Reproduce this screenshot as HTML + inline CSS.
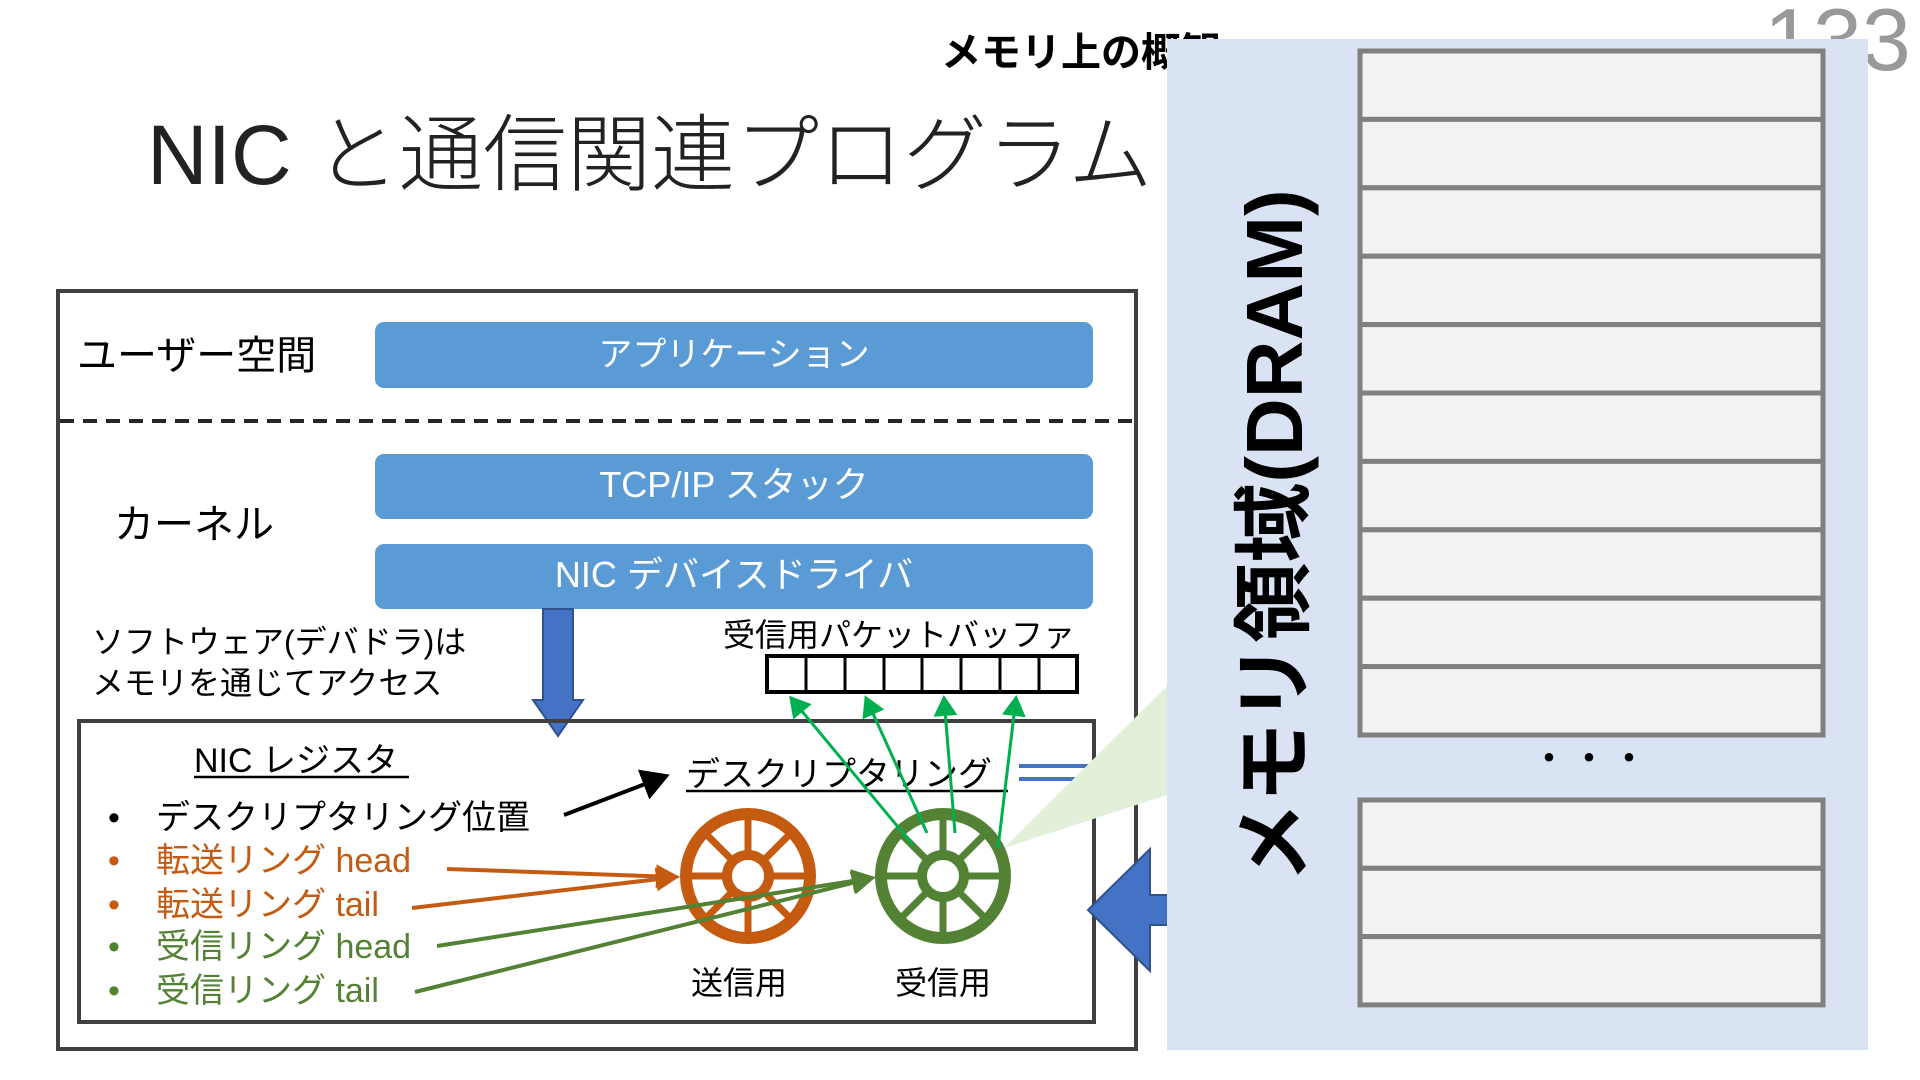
<!DOCTYPE html>
<html><head><meta charset="utf-8"><style>
html,body{margin:0;padding:0;background:#fff;}
svg{display:block;}
text{font-family:"Liberation Sans","Noto Sans CJK JP",sans-serif;}
</style></head><body>
<svg width="1920" height="1080" viewBox="0 0 1920 1080" xmlns="http://www.w3.org/2000/svg">
<defs>
<marker id="ab" markerWidth="8" markerHeight="8" refX="6" refY="4" orient="auto" markerUnits="strokeWidth"><path d="M0,0 L7,4 L0,8 Z" fill="#000"/></marker>
<marker id="ao" markerWidth="6" markerHeight="6" refX="5" refY="3" orient="auto" markerUnits="strokeWidth"><path d="M0,0 L6,3 L0,6 Z" fill="#c55a11"/></marker>
<marker id="ag" markerWidth="6" markerHeight="6" refX="5" refY="3" orient="auto" markerUnits="strokeWidth"><path d="M0,0 L6,3 L0,6 Z" fill="#548235"/></marker>
<marker id="abg" markerWidth="8" markerHeight="8" refX="6" refY="4" orient="auto" markerUnits="strokeWidth"><path d="M0,0 L7,4 L0,8 Z" fill="#00b050"/></marker>
</defs>
<text x="1764" y="70" font-size="88" fill="#999" font-weight="300">133</text>
<text x="147" y="184" font-size="84" fill="#222" font-weight="300">NIC と通信関連プログラム</text>
<text x="941" y="66" font-size="40" font-weight="bold" fill="#000">メモリ上の概観</text>

<!-- outer box -->
<rect x="58" y="291" width="1078" height="758" fill="none" stroke="#404040" stroke-width="4"/>
<line x1="60" y1="421" x2="1134" y2="421" stroke="#262626" stroke-width="4" stroke-dasharray="14,9"/>
<text x="77" y="369" font-size="40" fill="#000">ユーザー空間</text>
<text x="114" y="538" font-size="40" fill="#000">カーネル</text>
<rect x="375" y="322" width="718" height="66" rx="9" fill="#5b9bd5"/>
<text x="734" y="366" font-size="34" fill="#fff" text-anchor="middle">アプリケーション</text>
<rect x="375" y="454" width="718" height="65" rx="9" fill="#5b9bd5"/>
<text x="734" y="497" font-size="36" fill="#fff" text-anchor="middle">TCP/IP スタック</text>
<rect x="375" y="544" width="718" height="65" rx="9" fill="#5b9bd5"/>
<text x="734" y="587" font-size="36" fill="#fff" text-anchor="middle">NIC デバイスドライバ</text>

<!-- down arrow -->
<path d="M543,609 L573,609 L573,700 L583,700 L558,736 L533,700 L543,700 Z" fill="#4472c4" stroke="#2f528f" stroke-width="2"/>
<text x="92" y="653" font-size="32" fill="#000">ソフトウェア(デバドラ)は</text>
<text x="92" y="694" font-size="32" fill="#000">メモリを通じてアクセス</text>
<text x="723" y="646" font-size="32" fill="#000">受信用パケットバッファ</text>
<rect x="767" y="656" width="310" height="36" fill="#fff" stroke="#000" stroke-width="4"/>
<g stroke="#000" stroke-width="3">
<line x1="806" y1="656" x2="806" y2="692"/><line x1="845" y1="656" x2="845" y2="692"/><line x1="884" y1="656" x2="884" y2="692"/><line x1="922" y1="656" x2="922" y2="692"/><line x1="961" y1="656" x2="961" y2="692"/><line x1="1000" y1="656" x2="1000" y2="692"/><line x1="1039" y1="656" x2="1039" y2="692"/>
</g>

<!-- NIC box -->
<rect x="79" y="721" width="1015" height="301" fill="none" stroke="#404040" stroke-width="4"/>
<text x="194" y="772" font-size="34" fill="#000">NIC レジスタ</text>
<line x1="194" y1="777" x2="409" y2="777" stroke="#000" stroke-width="2.5"/>
<g font-size="34">
<text x="108" y="829" fill="#000">•</text><text x="156" y="829" fill="#000">デスクリプタリング位置</text>
<text x="108" y="872" fill="#c55a11">•</text><text x="156" y="872" fill="#c55a11">転送リング head</text>
<text x="108" y="916" fill="#c55a11">•</text><text x="156" y="916" fill="#c55a11">転送リング tail</text>
<text x="108" y="958" fill="#548235">•</text><text x="156" y="958" fill="#548235">受信リング head</text>
<text x="108" y="1002" fill="#548235">•</text><text x="156" y="1002" fill="#548235">受信リング tail</text>
</g>
<line x1="564" y1="815" x2="666" y2="776" stroke="#000" stroke-width="4" marker-end="url(#ab)"/>
<text x="686" y="786" font-size="34" fill="#000">デスクリプタリング</text>
<line x1="686" y1="791" x2="1008" y2="791" stroke="#000" stroke-width="2.5"/>
<line x1="1019" y1="766" x2="1155" y2="766" stroke="#4472c4" stroke-width="4"/>
<line x1="1019" y1="779" x2="1155" y2="779" stroke="#4472c4" stroke-width="4"/>

<!-- fan -->
<polygon points="1004,848 1167,686 1167,795" fill="#e2f0d9"/>

<!-- wheels -->
<g stroke="#c55a11" fill="none">
<circle cx="748" cy="876" r="62" stroke-width="12"/>
<circle cx="748" cy="876" r="21" stroke-width="10"/>
<g stroke-width="7">
<line x1="748" y1="814" x2="748" y2="855"/><line x1="748" y1="897" x2="748" y2="938"/>
<line x1="686" y1="876" x2="727" y2="876"/><line x1="769" y1="876" x2="810" y2="876"/>
<line x1="704" y1="832" x2="733" y2="861"/><line x1="763" y1="891" x2="792" y2="920"/>
<line x1="792" y1="832" x2="763" y2="861"/><line x1="733" y1="891" x2="704" y2="920"/>
</g></g>
<g stroke="#548235" fill="none">
<circle cx="943" cy="876" r="62" stroke-width="12"/>
<circle cx="943" cy="876" r="21" stroke-width="10"/>
<g stroke-width="7">
<line x1="943" y1="814" x2="943" y2="855"/><line x1="943" y1="897" x2="943" y2="938"/>
<line x1="881" y1="876" x2="922" y2="876"/><line x1="964" y1="876" x2="1005" y2="876"/>
<line x1="899" y1="832" x2="928" y2="861"/><line x1="958" y1="891" x2="987" y2="920"/>
<line x1="987" y1="832" x2="958" y2="861"/><line x1="928" y1="891" x2="899" y2="920"/>
</g></g>
<text x="739" y="994" font-size="32" fill="#000" text-anchor="middle">送信用</text>
<text x="943" y="994" font-size="32" fill="#000" text-anchor="middle">受信用</text>

<line x1="447" y1="869" x2="676" y2="877" stroke="#c55a11" stroke-width="4" marker-end="url(#ao)"/>
<line x1="412" y1="908" x2="676" y2="877" stroke="#c55a11" stroke-width="4" marker-end="url(#ao)"/>
<line x1="437" y1="946" x2="872" y2="878" stroke="#548235" stroke-width="4" marker-end="url(#ag)"/>
<line x1="415" y1="992" x2="872" y2="878" stroke="#548235" stroke-width="4" marker-end="url(#ag)"/>
<g stroke="#00b050" stroke-width="3">
<line x1="913" y1="845" x2="791" y2="698" marker-end="url(#abg)"/>
<line x1="927" y1="833" x2="866" y2="698" marker-end="url(#abg)"/>
<line x1="955" y1="833" x2="944" y2="698" marker-end="url(#abg)"/>
<line x1="998" y1="848" x2="1016" y2="698" marker-end="url(#abg)"/>
</g>

<!-- big blue left arrow -->
<path d="M1088,910 L1150,849 L1150,895 L1180,895 L1180,925 L1150,925 L1150,971 Z" fill="#4472c4" stroke="#2f528f" stroke-width="2"/>

<!-- memory panel -->
<rect x="1167" y="39" width="701" height="1011" fill="#dae3f3"/>
<text transform="translate(1302,536) rotate(-90)" font-size="80" font-weight="bold" fill="#000" text-anchor="middle">メモリ領域(DRAM)</text>
<g fill="#f2f2f2" stroke="#808080" stroke-width="5">
<rect x="1360" y="51" width="463" height="68.4"/>
<rect x="1360" y="119.4" width="463" height="68.4"/>
<rect x="1360" y="187.8" width="463" height="68.4"/>
<rect x="1360" y="256.2" width="463" height="68.4"/>
<rect x="1360" y="324.6" width="463" height="68.4"/>
<rect x="1360" y="393" width="463" height="68.4"/>
<rect x="1360" y="461.4" width="463" height="68.4"/>
<rect x="1360" y="529.8" width="463" height="68.4"/>
<rect x="1360" y="598.2" width="463" height="68.4"/>
<rect x="1360" y="666.6" width="463" height="68.4"/>
<rect x="1360" y="800" width="463" height="68.3"/>
<rect x="1360" y="868.3" width="463" height="68.3"/>
<rect x="1360" y="936.6" width="463" height="68.3"/>
</g>
<text x="1589" y="772" font-size="40" fill="#000" text-anchor="middle">・・・</text>
</svg>
</body></html>
